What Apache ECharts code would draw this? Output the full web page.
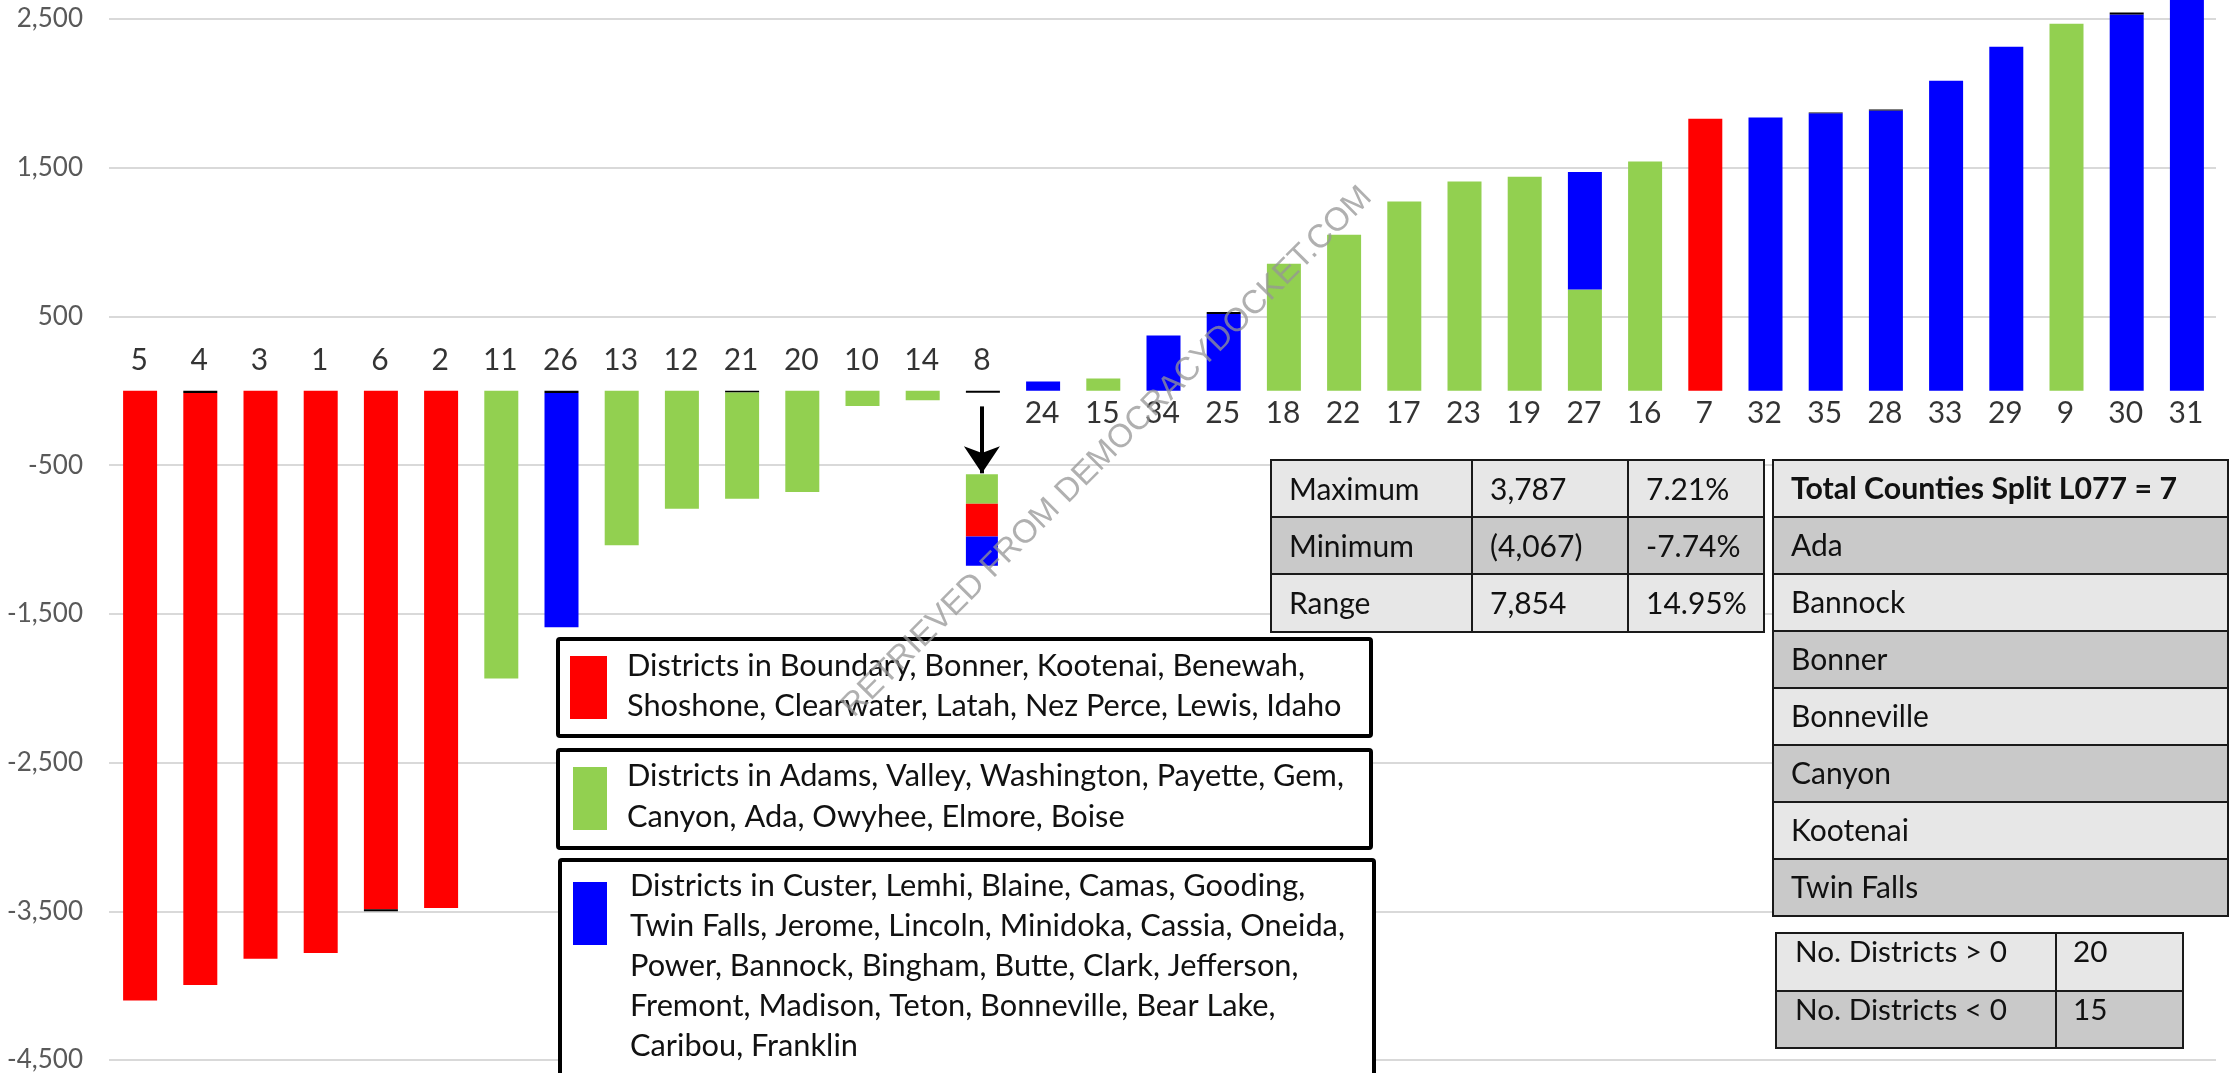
<!DOCTYPE html>
<html>
<head>
<meta charset="utf-8">
<script src="https://cdn.jsdelivr.net/npm/echarts@6/dist/echarts.min.js"></script>
<style>
  html, body { margin: 0; padding: 0; background: #ffffff; }
  #chart { width: 2229px; height: 1073px; }
</style>
</head>
<body>
<div id="chart"></div>
<script>
// ---------------- data ----------------
const districts = ['5','4','3','1','6','2','11','26','13','12','21','20','10','14','8','24','15','34','25','18','22','17','23','19','27','16','7','32','35','28','33','29','9','30','31'];

const redValues   = [-4100,-3981,-3820,-3780,-3487,-3478,null,null,null,null,null,null,null,null,null,null,null,null,null,null,null,null,null,null,null,null,1830,null,null,null,null,null,null,null,null];
const greenValues = [null,null,null,null,null,null,-1935,null,-1038,-794,-714,-681,-102,-64,null,null,83,null,null,855,1050,1272,1407,1440,681,1541,null,null,null,null,null,null,2468,null,null];
const blueValues  = [null,null,null,null,null,null,null,-1575,null,null,null,null,null,null,null,62,null,372,517,null,null,null,null,null,791,null,null,1837,1866,1884,2085,2314,null,2531,3787];
// thin black segments drawn at the zero side / the far end of some bars
const edgeInner   = [null,-15,null,null,null,null,null,-15,null,null,-12,null,null,null,-14,null,null,null,null,null,null,null,null,null,null,null,null,null,null,null,null,null,null,null,null];
const edgeOuter   = [null,null,null,null,-12,null,null,null,null,null,null,null,null,null,null,null,null,null,13,null,null,null,null,null,null,null,null,null,6,8,null,null,null,13,null];

// district 8 split indicator (offset below zero, then green / red / blue parts)
const ind8District = '8';
const ind8Offset = -562;
const ind8Green = -197;
const ind8Red = -220;
const ind8Blue = -198;
const ind8ArrowFrom = -105;
const ind8ArrowTo = -555;

const yTicks = [-4500, -3500, -2500, -1500, -500, 500, 1500, 2500];

const legendRed   = ['Districts in Boundary, Bonner, Kootenai, Benewah,', 'Shoshone, Clearwater, Latah, Nez Perce, Lewis, Idaho'];
const legendGreen = ['Districts in Adams, Valley, Washington, Payette, Gem,', 'Canyon, Ada, Owyhee, Elmore, Boise'];
const legendBlue  = ['Districts in Custer, Lemhi, Blaine, Camas, Gooding,', 'Twin Falls, Jerome, Lincoln, Minidoka, Cassia, Oneida,', 'Power, Bannock, Bingham, Butte, Clark, Jefferson,', 'Fremont, Madison, Teton, Bonneville, Bear Lake,', 'Caribou, Franklin'];

const statLabels   = ['Maximum', 'Minimum', 'Range'];
const statValues   = ['3,787', '(4,067)', '7,854'];
const statPercents = ['7.21%', '-7.74%', '14.95%'];

const countiesHeader = 'Total Counties Split L077 = 7';
const countiesSplit  = ['Ada', 'Bannock', 'Bonner', 'Bonneville', 'Canyon', 'Kootenai', 'Twin Falls'];

const countLabels = ['No. Districts > 0', 'No. Districts < 0'];
const countValues = ['20', '15'];

const watermark = 'RETRIEVED FROM DEMOCRACYDOCKET.COM';

// ---------------- styles ----------------
const RED = '#FF0000', GREEN = '#92D050', BLUE = '#0000FF';
const FONT = "Lato, Carlito, 'Noto Sans', sans-serif";
const LIGHT = '#E7E7E7', DARK = '#C9C9C9', BORDER = '#1a1a1a';

const measureCtx = document.createElement('canvas').getContext('2d');
function fitSize(text, weight, family, target) {
  measureCtx.font = weight + ' 100px ' + family;
  return 100 * target / measureCtx.measureText(text).width;
}

const legendSize = Math.min(31, fitSize(legendRed[0], 'normal', FONT, 678));
const statSize = Math.min(30, fitSize('Maximum', 'normal', FONT, 137));
const headSize = Math.min(31, fitSize(countiesHeader, 'bold', FONT, 386));
const bodySize = Math.min(30, fitSize('Bonneville', 'normal', FONT, 141));
const countSize = Math.min(30, fitSize(countLabels[0], 'normal', FONT, 212));
const wmSize = fitSize(watermark, 'normal', "'Liberation Sans', Arial, sans-serif", 735);

// ---------------- helpers ----------------
const at8 = v => districts.map(d => d === ind8District ? v : null);
const netValue = districts.map((d, i) => [redValues, greenValues, blueValues, edgeInner, edgeOuter].reduce((s, a) => s + (a[i] || 0), 0));

function mainBar(name, data, color) {
  return {
    type: 'bar', name, data, stack: 'main', barWidth: 34, barGap: '-100%',
    clip: false, silent: true, itemStyle: { color }
  };
}
function indBar(name, data, color, extra) {
  return Object.assign({
    type: 'bar', name, data, stack: 'ind', barWidth: 32, barGap: '-100%',
    silent: true, itemStyle: { color }
  }, extra || {});
}

function text(x, y, str, size, weight, extra) {
  return Object.assign({
    type: 'text', x, y, z: 20, silent: true,
    style: { text: str, fontSize: size, fontFamily: FONT, fontWeight: weight || 'normal',
             fill: '#111111', textAlign: 'left', textVerticalAlign: 'middle', align: 'left', verticalAlign: 'middle' }
  }, extra || {});
}
function cell(x, y, w, h, fill) {
  return { type: 'rect', z: 15, silent: true, shape: { x, y, width: w, height: h },
           style: { fill, stroke: BORDER, lineWidth: 2 } };
}

const elements = [];
// legend boxes
function legendBox(x, y, w, h, swatch, color, lines, tx, baselines) {
  elements.push({ type: 'rect', z: 15, silent: true, shape: { x, y, width: w, height: h, r: 2 },
                  style: { fill: '#ffffff', stroke: '#000000', lineWidth: 4 } });
  elements.push({ type: 'rect', z: 16, silent: true, shape: swatch, style: { fill: color } });
  lines.forEach((ln, i) => elements.push(text(tx, baselines[i] - 0.387 * legendSize, ln, legendSize)));
}
legendBox(558, 639, 813, 97, { x: 570, y: 656, width: 37, height: 63 }, RED, legendRed, 627, [678, 718]);
legendBox(558, 750, 813, 98, { x: 573, y: 767, width: 34, height: 63 }, GREEN, legendGreen, 627, [788, 829]);
legendBox(560, 860, 814, 260, { x: 573, y: 882, width: 34, height: 63 }, BLUE, legendBlue, 630, [898, 938, 978, 1018, 1058]);

// stats table
const sCols = [1271, 1472, 1628, 1764];
const sRows = [460, 517, 574, 632];
statLabels.forEach((lab, r) => {
  const fill = r === 1 ? DARK : LIGHT;
  const cols = [lab, statValues[r], statPercents[r]];
  cols.forEach((t, c) => {
    elements.push(cell(sCols[c], sRows[r], sCols[c + 1] - sCols[c], sRows[r + 1] - sRows[r], fill));
    elements.push(text(sCols[c] + 18, sRows[r] + 30, t, statSize));
  });
});

// counties table
const cRows = [460, 517, 574, 631, 688, 745, 802, 859, 916];
elements.push(cell(1773, cRows[0], 455, cRows[1] - cRows[0], LIGHT));
elements.push(text(1791, cRows[0] + 29, countiesHeader, headSize, 'bold'));
countiesSplit.forEach((c, i) => {
  const r = i + 1;
  elements.push(cell(1773, cRows[r], 455, cRows[r + 1] - cRows[r], r % 2 === 1 ? DARK : LIGHT));
  elements.push(text(1791, cRows[r] + 29, c, bodySize));
});

// count table
const kCols = [1776, 2056, 2183];
const kRows = [933, 991, 1048];
countLabels.forEach((lab, r) => {
  const fill = r === 0 ? LIGHT : DARK;
  elements.push(cell(kCols[0], kRows[r], kCols[1] - kCols[0], kRows[r + 1] - kRows[r], fill));
  elements.push(cell(kCols[1], kRows[r], kCols[2] - kCols[1], kRows[r + 1] - kRows[r], fill));
  elements.push(text(1795, kRows[r] + 19, lab, countSize));
  elements.push(text(2073, kRows[r] + 19, countValues[r], countSize));
});

// watermark
elements.push({
  type: 'text', x: 1107, y: 452, rotation: Math.PI / 4, z: 100, silent: true,
  style: { text: watermark, fontSize: wmSize, fontFamily: "'Liberation Sans', Arial, sans-serif",
           fill: 'rgba(150,150,150,0.75)', textAlign: 'center', textVerticalAlign: 'middle', align: 'center', verticalAlign: 'middle' }
});

// ---------------- chart ----------------
const chart = echarts.init(document.getElementById('chart'), null, { renderer: 'canvas' });
chart.setOption({
  animation: false,
  backgroundColor: '#ffffff',
  grid: { left: 109, right: 13, top: 19, bottom: 11, containLabel: false },
  xAxis: {
    type: 'category', data: districts,
    axisLine: { show: false }, axisTick: { show: false }, axisLabel: { show: false }, splitLine: { show: false }
  },
  yAxis: {
    type: 'value', min: yTicks[0], max: yTicks[yTicks.length - 1], interval: 1000,
    axisLine: { show: false }, axisTick: { show: false },
    axisLabel: { color: '#595959', fontSize: 26, fontFamily: FONT, margin: 26,
                 formatter: v => v.toLocaleString('en-US') },
    splitLine: { lineStyle: { color: '#D9D9D9', width: 2 } }
  },
  series: [
    mainBar('edgeInner', edgeInner, '#000000'),
    mainBar('Boundary–Idaho districts', redValues, RED),
    mainBar('Adams–Boise districts', greenValues, GREEN),
    mainBar('Custer–Franklin districts', blueValues, BLUE),
    mainBar('edgeOuter', edgeOuter, '#000000'),
    indBar('ind8Offset', at8(ind8Offset), 'rgba(0,0,0,0)'),
    indBar('ind8Green', at8(ind8Green), GREEN),
    indBar('ind8Red', at8(ind8Red), RED),
    indBar('ind8Blue', at8(ind8Blue), BLUE, {
      z: 6,
      markLine: {
        silent: true, animation: false, z: 10,
        symbol: ['none', 'arrow'], symbolSize: 27,
        label: { show: false },
        itemStyle: { color: '#000000' },
        lineStyle: { color: '#000000', width: 4, type: 'solid', opacity: 1 },
        data: [[{ coord: [ind8District, ind8ArrowFrom] }, { coord: [ind8District, ind8ArrowTo] }]]
      }
    }),
    {
      type: 'scatter', name: 'labels', symbolSize: 0, silent: true, z: 5,
      data: districts.map((d, i) => ({
        value: [i, 0],
        label: netValue[i] < 0 ? { position: 'top', distance: 15 } : { position: 'bottom', distance: 8 }
      })),
      label: { show: true, formatter: p => districts[p.dataIndex], fontSize: 30, fontFamily: FONT, color: '#000000' }
    }
  ],
  graphic: { elements }
});
</script>
</body>
</html>
